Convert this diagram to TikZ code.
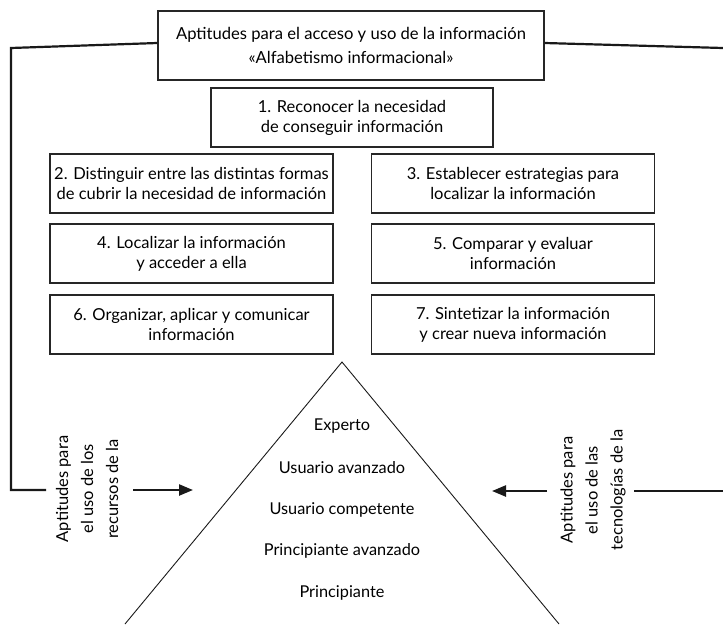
\documentclass[tikz,border=0pt]{standalone}
\usepackage{fontspec}
\setmainfont{Lato}
\usetikzlibrary{arrows.meta}
\begin{document}
\begin{tikzpicture}[x=1pt,y=-1pt,
  box/.style={draw=black!85, line width=1.2pt, fill=white, align=center, inner sep=0pt,
    minimum width=283pt, minimum height=59pt, font=\fontsize{16.5}{20}\selectfont},
  topbox/.style={box, minimum width=386pt, minimum height=69pt, font=\fontsize{16.6}{24}\selectfont},
  conn/.style={draw=black!90, line width=2.2pt},
  arr/.style={draw=black!90, line width=2.4pt, -{Triangle[length=14pt,width=11pt]}},
  tri/.style={draw=black!90, line width=0.9pt},
  lvl/.style={font=\fontsize{16.3}{18}\selectfont, inner sep=0pt},
  side/.style={font=\fontsize{16.5}{25}\selectfont, align=center, inner sep=0pt, rotate=90}
]
\useasboundingbox (0,0) rectangle (723,624);

\node[topbox] (top) at (351,45.5) {Aptitudes para el acceso y uso de la información\\«Alfabetismo informacional»};
\node[box, minimum width=282pt] (b1) at (352,117.5) {1. Reconocer la necesidad\\de conseguir información};
\node[box] (b2) at (191.5,183.5) {2. Distinguir entre las distintas formas\\de cubrir la necesidad de información};
\node[box] (b3) at (513,183.5) {3. Establecer estrategias para\\localizar la información};
\node[box] (b4) at (191.5,253.5) {4. Localizar la información\\y acceder a ella};
\node[box] (b5) at (513,253.5) {5. Comparar y evaluar\\información};
\node[box] (b6) at (191.5,324.5) {6. Organizar, aplicar y comunicar\\información};
\node[box] (b7) at (513,324.5) {7. Sintetizar la información\\y crear nueva información};

% triangle
\coordinate (apex) at (342,362);
\coordinate (tl) at (125,624);
\coordinate (tr) at (559,624);
\draw[tri] (tl) -- (apex) -- (tr);

\node[lvl] (l1) at (342,426) {Experto};
\node[lvl] (l2) at (342,468) {Usuario avanzado};
\node[lvl] (l3) at (342,510) {Usuario competente};
\node[lvl] (l4) at (342,551) {Principiante avanzado};
\node[lvl] (l5) at (342,593) {Principiante};

% side labels
\node[side] (sl) at (87,489) {Aptitudes para\\el uso de los\\recursos de la};
\node[side] (sr) at (593,490) {Aptitudes para\\el uso de las\\tecnologías de la};

% connectors
\coordinate (lc1) at (11,48);
\coordinate (lc2) at (46,490);
\coordinate (rc1) at (723,48);
\coordinate (rc2) at (634,491);
\coordinate (rc3) at (723,491);
\draw[conn] ([yshift=2.5pt]top.west) -- (lc1) |- (lc2);
\draw[conn] ([yshift=2.5pt]top.east) -- (rc1);
\draw[conn] (rc2) -- (rc3);

\coordinate (la1) at (133,490);
\coordinate (la2) at (193,490);
\coordinate (ra1) at (547,491);
\coordinate (ra2) at (492,491);
\draw[arr] (la1) -- (la2);
\draw[arr] (ra1) -- (ra2);
\end{tikzpicture}
\end{document}
